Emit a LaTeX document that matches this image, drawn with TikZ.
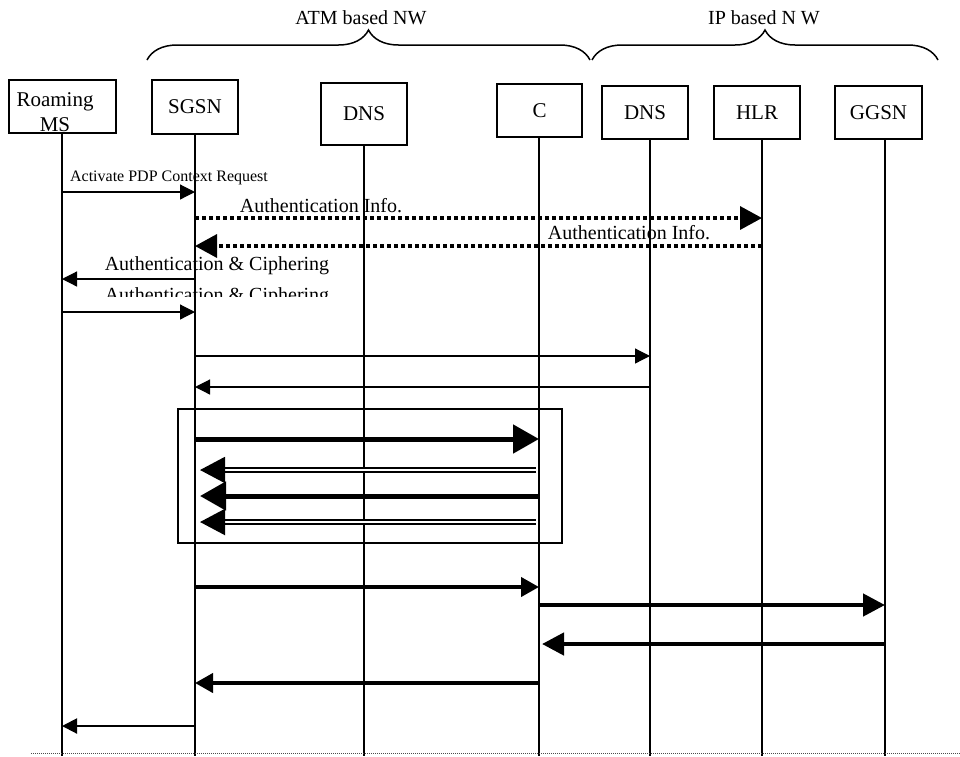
\documentclass[tikz,border=0pt]{standalone}
\usepackage{fontspec}
\setmainfont{Liberation Serif}
\usepackage{tikz}
\usetikzlibrary{arrows.meta,positioning,calc,decorations.pathreplacing}

\tikzset{
    actor/.style={draw, line width=1.2pt, inner sep=0pt, font=\fontsize{21}{23}\selectfont},
    hdr/.style={font=\fontsize{20}{24}\selectfont},
    msgtxt/.style={font=\fontsize{20}{24}\selectfont, inner sep=0pt},
    life/.style={line width=1.2pt},
    brace/.style={line width=1.5pt, decorate, decoration={brace, amplitude=30pt}},
    msg/.style={line width=1.2pt, -{Triangle[length=15pt, width=15pt]}},
    authmsg/.style={line width=3.5pt, dash pattern=on 4pt off 3pt, -{Triangle[length=22pt, width=23pt]}},
    bigmsg/.style={line width=5pt, -{Triangle[length=26pt, width=28pt]}},
    dblmsg/.style={line width=2pt, double, double distance=2pt, -{Triangle[length=25pt, width=26pt]}},
    midmsg/.style={line width=4pt, -{Triangle[length=18pt, width=19pt]}},
    widemsg/.style={line width=4.5pt, -{Triangle[length=22pt, width=22pt]}}
}

\begin{document}
\begin{tikzpicture}[x=1pt, y=-1pt]
    \useasboundingbox (0,0) rectangle (960,756);

    % --- networks ---
    \node[hdr] (atm) at (361,18) {ATM based NW};
    \node[hdr] (ip) at (764,18) {IP based N W};
    \draw[brace] (147,60) -- (590,60);
    \draw[brace] (592,60) -- (938,60);

    % --- participants ---
    \node[actor, minimum width=107, minimum height=53] (ms) at (62.5,106.5) {};
    \node[font=\fontsize{21}{25}\selectfont, align=center, inner sep=0pt] (ms-txt) at (55,112) {Roaming\\MS};
    \node[actor, minimum width=86, minimum height=54] (sgsn) at (195,107) {SGSN};
    \node[actor, minimum width=86, minimum height=62] (dnsa) at (364,114) {DNS};
    \node[actor, minimum width=85, minimum height=53] (c) at (539.5,110.5) {C};
    \node[actor, minimum width=86, minimum height=53] (dnsb) at (645,112.5) {DNS};
    \node[actor, minimum width=86, minimum height=53] (hlr) at (757,112.5) {HLR};
    \node[actor, minimum width=87, minimum height=53] (ggsn) at (878.5,112.5) {GGSN};

    % lifelines
    \foreach \n/\x in {ms/62, sgsn/195, dnsa/364, c/539, dnsb/650, hlr/762, ggsn/885}
        \draw[life] (\n.south -| \x,0) coordinate (\n-l) -- (\x,756);

    % --- activation and authentication ---
    \node[font=\fontsize{16}{19}\selectfont, inner sep=0pt] (act) at (169,178) {Activate PDP Context Request};
    \draw[msg] (ms-l |- 0,192) -- (sgsn-l |- 0,192);

    \node[msgtxt] (authA) at (321,206) {Authentication Info.};
    \draw[authmsg] (sgsn-l |- 0,218) -- (hlr-l |- 0,218);
    \node[msgtxt] (authB) at (629,233) {Authentication Info.};
    \draw[authmsg] (hlr-l |- 0,246) -- (sgsn-l |- 0,246);

    \node[msgtxt] (ciphA) at (217,266) {Authentication \& Ciphering};
    \draw[msg] (sgsn-l |- 0,279) -- (ms-l |- 0,279);
    \begin{scope}
        \clip (90,280) rectangle (340,296);
        \node[msgtxt] (ciphB) at (217,297) {Authentication \& Ciphering};
    \end{scope}
    \draw[msg] (ms-l |- 0,312) -- (sgsn-l |- 0,312);

    % --- DNS query ---
    \draw[msg] (sgsn-l |- 0,356) -- (dnsb-l |- 0,356);
    \draw[msg] (dnsb-l |- 0,387) -- (sgsn-l |- 0,387);

    % --- exchange with C (framed) ---
    \node[draw, line width=1.2pt, inner sep=0pt, minimum width=384, minimum height=134] (grp) at (370,476) {};
    \draw[bigmsg] (sgsn-l |- 0,439) -- (c-l |- 0,439);
    \draw[dblmsg, shorten <=3pt, shorten >=5pt] (c-l |- 0,470) -- (sgsn-l |- 0,470);
    \draw[bigmsg, shorten >=5pt] (c-l |- 0,496) -- (sgsn-l |- 0,496);
    \draw[dblmsg, shorten <=3pt, shorten >=5pt] (c-l |- 0,522) -- (sgsn-l |- 0,522);

    % --- towards GGSN and back ---
    \draw[midmsg] (sgsn-l |- 0,587) -- (c-l |- 0,587);
    \draw[widemsg] (c-l |- 0,605) -- (ggsn-l |- 0,605);
    \draw[widemsg, shorten >=3pt] (ggsn-l |- 0,644) -- (c-l |- 0,644);
    \draw[midmsg] (c-l |- 0,683) -- (sgsn-l |- 0,683);
    \draw[msg, line width=2pt] (sgsn-l |- 0,726) -- (ms-l |- 0,726);

    % bottom edge
    \draw[black!70, line width=1pt, dash pattern=on 1pt off 1pt] (31,753) -- (960,753);
\end{tikzpicture}
\end{document}
